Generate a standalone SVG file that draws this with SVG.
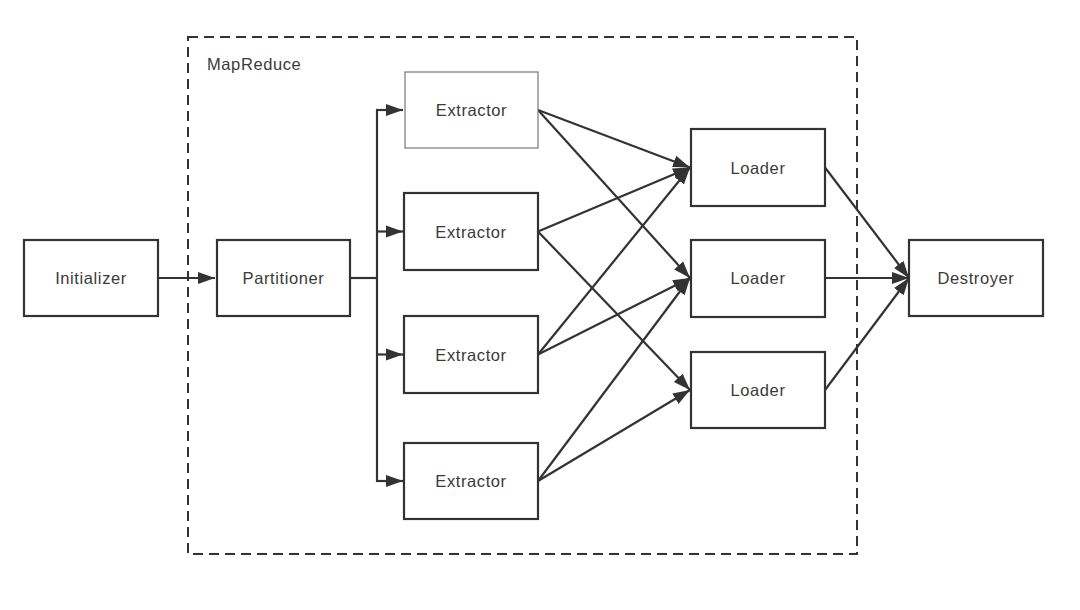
<svg xmlns="http://www.w3.org/2000/svg" width="1080" height="610" viewBox="0 0 1080 610">
<style>
.box{fill:#fff;stroke:#333;stroke-width:2.2}
.thin{fill:#fff;stroke:#777;stroke-width:1.2}
.lbl{font-family:"Liberation Sans",Arial,sans-serif;font-size:16.5px;letter-spacing:0.6px;fill:#3a3a3a;text-anchor:middle;dominant-baseline:central}
.edge{fill:none;stroke:#333;stroke-width:2.2}
</style>
<defs>
<marker id="ah" markerUnits="userSpaceOnUse" markerWidth="18" markerHeight="14" refX="17" refY="7" orient="auto">
<path d="M0,1 L17,7 L0,13 Z" fill="#333"/>
</marker>
</defs>
<rect x="1" y="1" width="1078" height="608" fill="#fff" stroke="none"/>
<g id="mapreduce">
<rect x="188" y="37" width="669" height="517" fill="none" stroke="#333" stroke-width="2" stroke-dasharray="10,6"/>
<text class="lbl" x="207" y="64" style="text-anchor:start">MapReduce</text>
</g>
<g id="connectors">
<line class="edge" x1="158" y1="278" x2="215" y2="278" marker-end="url(#ah)"/>
<polyline class="edge" points="350,278 377,278"/>
<line class="edge" x1="377" y1="110" x2="377" y2="481"/>
<line class="edge" x1="376" y1="110" x2="403" y2="110" marker-end="url(#ah)"/>
<line class="edge" x1="377" y1="231.5" x2="403" y2="231.5" marker-end="url(#ah)"/>
<line class="edge" x1="377" y1="354.5" x2="403" y2="354.5" marker-end="url(#ah)"/>
<line class="edge" x1="376" y1="481" x2="403" y2="481" marker-end="url(#ah)"/>
<line class="edge" x1="538" y1="110" x2="690" y2="167.5" marker-end="url(#ah)"/>
<line class="edge" x1="538" y1="110" x2="690" y2="278" marker-end="url(#ah)"/>
<line class="edge" x1="538" y1="231.5" x2="690" y2="167.5" marker-end="url(#ah)"/>
<line class="edge" x1="538" y1="231.5" x2="690" y2="390" marker-end="url(#ah)"/>
<line class="edge" x1="538" y1="354.5" x2="690" y2="167.5" marker-end="url(#ah)"/>
<line class="edge" x1="538" y1="354.5" x2="690" y2="278" marker-end="url(#ah)"/>
<line class="edge" x1="538" y1="481" x2="690" y2="278" marker-end="url(#ah)"/>
<line class="edge" x1="538" y1="481" x2="690" y2="390" marker-end="url(#ah)"/>
<line class="edge" x1="825" y1="167.5" x2="909" y2="278" marker-end="url(#ah)"/>
<line class="edge" x1="825" y1="278" x2="909" y2="278" marker-end="url(#ah)"/>
<line class="edge" x1="825" y1="390" x2="909" y2="278" marker-end="url(#ah)"/>
</g>
<g id="initializer"><rect class="box" x="24" y="240" width="134" height="76"/><text class="lbl" x="91" y="278">Initializer</text></g>
<g id="partitioner"><rect class="box" x="217" y="240" width="133" height="76"/><text class="lbl" x="283.5" y="278">Partitioner</text></g>
<g id="extractor1"><rect class="thin" x="405" y="72" width="133" height="76"/><text class="lbl" x="471.5" y="110">Extractor</text></g>
<g id="extractor2"><rect class="box" x="404" y="193" width="134" height="77"/><text class="lbl" x="471" y="231.5">Extractor</text></g>
<g id="extractor3"><rect class="box" x="404" y="316" width="134" height="77"/><text class="lbl" x="471" y="354.5">Extractor</text></g>
<g id="extractor4"><rect class="box" x="404" y="443" width="134" height="76"/><text class="lbl" x="471" y="481">Extractor</text></g>
<g id="loader1"><rect class="box" x="691" y="129" width="134" height="77"/><text class="lbl" x="758" y="167.5">Loader</text></g>
<g id="loader2"><rect class="box" x="691" y="240" width="134" height="77"/><text class="lbl" x="758" y="278">Loader</text></g>
<g id="loader3"><rect class="box" x="691" y="352" width="134" height="76"/><text class="lbl" x="758" y="390">Loader</text></g>
<g id="destroyer"><rect class="box" x="909" y="240" width="134" height="76"/><text class="lbl" x="976" y="278">Destroyer</text></g>
</svg>
